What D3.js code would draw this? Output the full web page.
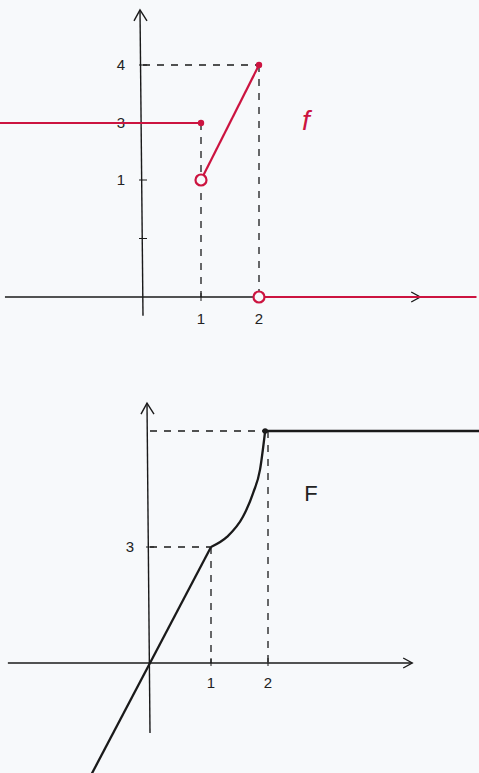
<!DOCTYPE html>
<html>
<head>
<meta charset="utf-8">
<script src="https://cdn.jsdelivr.net/npm/d3@7"></script>
<style>
  body { margin: 0; background: #f7f9fb; }
  svg { display: block; }
  text { font-family: "Liberation Sans", sans-serif; fill: #222; }
</style>
</head>
<body>
<div id="chart-area"></div>
<script>
const W = 479, H = 773
const RED = "#cc1440"
const INK = "#1a1a1a"
const BG = "#f7f9fb"

// top graph: f
const fFlatLeft = [[-2.5, 3], [1, 3]]
const fRamp = [[1, 1], [2, 4]]
const fFlatRight = [[2, 0], [5.75, 0]]
const fOpen = [[1, 1], [2, 0]]
const fClosed = [[1, 3], [2, 4]]
const fYTicks = [4, 3, 1, 0.5]
const fYLabels = { 4: "4", 3: "3", 1: "1" }
const fXTicks = [1, 2]

// bottom graph: F
const FLine = [[-1, -3], [0, 0], [1, 3]]
const FCurve = [[1, 3], [1.28, 3.26], [1.56, 3.78], [1.74, 4.4], [1.86, 5.0], [1.95, 6]]
const FFlat = [[1.95, 6], [5.8, 6]]
const FYTicks = [3]
const FXTicks = [1, 2]

const svg = d3.select("#chart-area").append("svg")
  .attr("width", W)
  .attr("height", H)

svg.append("rect").attr("width", W).attr("height", H).attr("fill", BG)

// hand drawn axes are not to scale, so piecewise scales
const x1 = d3.scaleLinear().domain([0, 1, 2]).range([143, 201, 259])
const y1 = d3.scaleLinear().domain([0, 1, 3, 4]).range([297, 180, 123, 65])
const x2 = d3.scaleLinear().domain([0, 1, 2]).range([150, 211, 268])
const y2 = d3.scaleLinear().domain([0, 3]).range([663, 547])

function drawAxes(g, x, y, xmin, xmax, ymin, ymax) {
  // x axis
  g.append("line")
    .attr("x1", x(xmin)).attr("x2", x(xmax))
    .attr("y1", y(0)).attr("y2", y(0))
    .attr("stroke", INK).attr("stroke-width", 1.4)
  g.append("path")
    .attr("d", `M${x(xmax) - 9},${y(0) - 5} L${x(xmax)},${y(0)} L${x(xmax) - 9},${y(0) + 5}`)
    .attr("fill", "none").attr("stroke", INK).attr("stroke-width", 1.4)
  // y axis
  g.append("line")
    .attr("x1", x(0)).attr("x2", x(0) - 3)
    .attr("y1", y(ymin)).attr("y2", y(ymax))
    .attr("stroke", INK).attr("stroke-width", 1.4)
  g.append("path")
    .attr("d", `M${x(0) - 9},${y(ymax) + 11} L${x(0) - 3},${y(ymax)} L${x(0) + 4},${y(ymax) + 11}`)
    .attr("fill", "none").attr("stroke", INK).attr("stroke-width", 1.4)
}

function dashed(g, x1p, y1p, x2p, y2p) {
  g.append("line")
    .attr("x1", x1p).attr("y1", y1p).attr("x2", x2p).attr("y2", y2p)
    .attr("stroke", INK).attr("stroke-width", 1.3)
    .attr("stroke-dasharray", "7,7")
}

// ---- top graph
const g1 = svg.append("g")
drawAxes(g1, x1, y1, -2.38, 4.78, -0.16, 4.95)

fYTicks.forEach(v => {
  g1.append("line")
    .attr("x1", x1(0) - 4).attr("x2", x1(0) + 4)
    .attr("y1", y1(v)).attr("y2", y1(v))
    .attr("stroke", INK).attr("stroke-width", 1)
  if (fYLabels[v]) {
    g1.append("text")
      .attr("x", x1(0) - 22).attr("y", y1(v) + 5)
      .attr("text-anchor", "middle").attr("font-size", 15)
      .text(fYLabels[v])
  }
})
fXTicks.forEach(v => {
  g1.append("line")
    .attr("x1", x1(v)).attr("x2", x1(v))
    .attr("y1", y1(0) - 4).attr("y2", y1(0) + 4)
    .attr("stroke", INK).attr("stroke-width", 1)
  g1.append("text")
    .attr("x", x1(v)).attr("y", y1(0) + 27)
    .attr("text-anchor", "middle").attr("font-size", 15)
    .text(v)
})

dashed(g1, x1(0), y1(4), x1(2), y1(4))
dashed(g1, x1(1), y1(3), x1(1), y1(0))
dashed(g1, x1(2), y1(4), x1(2), y1(0))

const line1 = d3.line().x(d => x1(d[0])).y(d => y1(d[1]))
;[fFlatLeft, fRamp, fFlatRight].forEach(seg => {
  g1.append("path")
    .datum(seg)
    .attr("d", line1)
    .attr("fill", "none")
    .attr("stroke", RED)
    .attr("stroke-width", 2.2)
})
g1.selectAll(".open").data(fOpen).enter().append("circle")
  .attr("cx", d => x1(d[0])).attr("cy", d => y1(d[1])).attr("r", 5.5)
  .attr("fill", BG).attr("stroke", RED).attr("stroke-width", 2.2)
g1.selectAll(".closed").data(fClosed).enter().append("circle")
  .attr("cx", d => x1(d[0])).attr("cy", d => y1(d[1])).attr("r", 3.2)
  .attr("fill", RED)

g1.append("text")
  .attr("x", 306).attr("y", 130)
  .attr("text-anchor", "middle")
  .attr("font-family", "Liberation Serif, serif")
  .attr("font-style", "italic")
  .attr("font-size", 28)
  .style("fill", RED)
  .text("f")

// ---- bottom graph
const g2 = svg.append("g")
drawAxes(g2, x2, y2, -2.33, 4.53, -1.81, 6.72)

FYTicks.forEach(v => {
  g2.append("line")
    .attr("x1", x2(0) - 4).attr("x2", x2(0) + 4)
    .attr("y1", y2(v)).attr("y2", y2(v))
    .attr("stroke", INK).attr("stroke-width", 1)
  g2.append("text")
    .attr("x", x2(0) - 20).attr("y", y2(v) + 5)
    .attr("text-anchor", "middle").attr("font-size", 15)
    .text(v)
})
FXTicks.forEach(v => {
  g2.append("line")
    .attr("x1", x2(v)).attr("x2", x2(v))
    .attr("y1", y2(0) - 5).attr("y2", y2(0) + 3)
    .attr("stroke", INK).attr("stroke-width", 1)
  g2.append("text")
    .attr("x", x2(v)).attr("y", y2(0) + 25)
    .attr("text-anchor", "middle").attr("font-size", 15)
    .text(v)
})

dashed(g2, x2(0), y2(6), x2(2), y2(6))
dashed(g2, x2(0), y2(3), x2(1), y2(3))
dashed(g2, x2(1), y2(3), x2(1), y2(0))
dashed(g2, x2(2), y2(6), x2(2), y2(0))

const line2 = d3.line().x(d => x2(d[0])).y(d => y2(d[1]))
g2.append("path").datum(FLine).attr("d", line2)
  .attr("fill", "none").attr("stroke", INK).attr("stroke-width", 2.3)
g2.append("path").datum(FCurve)
  .attr("d", d3.line().x(d => x2(d[0])).y(d => y2(d[1])).curve(d3.curveMonotoneX))
  .attr("fill", "none").attr("stroke", INK).attr("stroke-width", 2.3)
g2.append("path").datum(FFlat).attr("d", line2)
  .attr("fill", "none").attr("stroke", INK).attr("stroke-width", 2.3)
g2.append("circle")
  .attr("cx", x2(1.95)).attr("cy", y2(6)).attr("r", 2.8).attr("fill", INK)

g2.append("text")
  .attr("x", 311).attr("y", 501)
  .attr("text-anchor", "middle")
  .attr("font-size", 22)
  .text("F")
</script>
</body>
</html>
